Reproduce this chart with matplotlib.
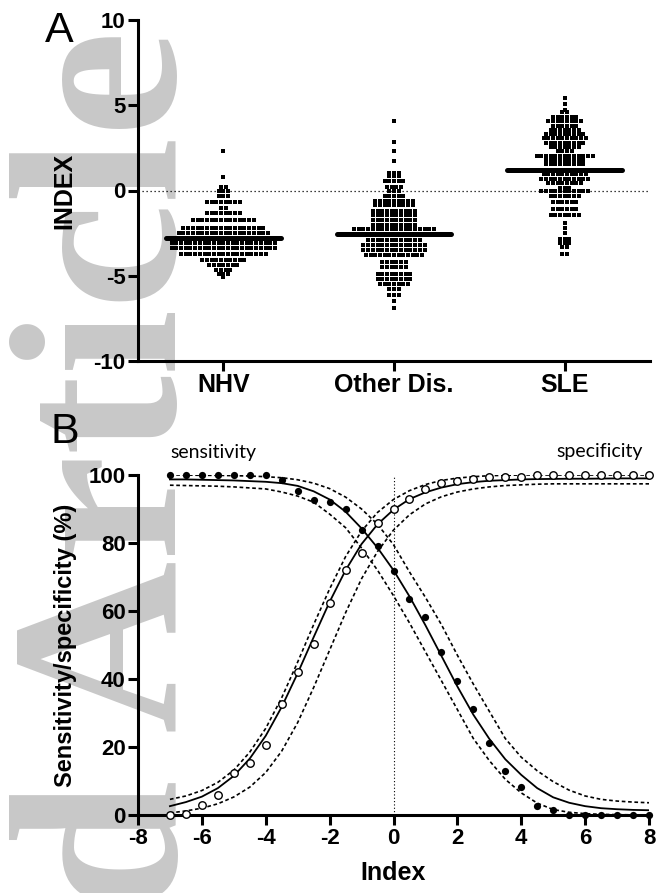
import numpy as np
import matplotlib.pyplot as plt

plt.rcParams['axes.unicode_minus'] = False

# ---- panel A : index per group (rows of the dot plot, value level -> number of subjects)
groups = ['NHV', 'Other Dis.', 'SLE']

nhv_levels = [2.3, 0.8, 0.2, 0.0, -0.35, -0.65, -1.0, -1.3, -1.75, -2.2, -2.5, -2.8,
              -3.1, -3.4, -3.75, -4.05, -4.35, -4.65, -4.9, -5.1]
nhv_counts = [1, 1, 2, 3, 3, 8, 2, 8, 14, 18, 20, 24, 23, 23, 19, 10, 7, 4, 3, 1]

oth_levels = [4.1, 2.85, 2.3, 1.75, 1.0, 0.85, 0.55, 0.2, 0.0, -0.35, -0.6, -0.85,
              -1.2, -1.45, -1.75, -2.0, -2.25, -2.55, -2.9, -3.2, -3.5, -3.8, -4.2,
              -4.5, -4.9, -5.2, -5.5, -5.8, -6.1, -6.5, -6.9]
oth_counts = [1, 1, 1, 1, 3, 3, 5, 4, 3, 5, 9, 9, 10, 10, 10, 10, 18, 18, 12, 14, 14,
              13, 6, 6, 8, 8, 7, 3, 3, 1, 1]

sle_levels = [5.45, 5.1, 4.75, 4.6, 4.3, 4.05, 3.8, 3.55, 3.3, 3.05, 2.8, 2.55, 2.3,
              2.05, 1.8, 1.55, 1.2, 0.95, 0.7, 0.45, 0.15, -0.05, -0.35, -0.65, -1.1,
              -1.45, -1.9, -2.2, -2.5, -2.85, -3.05, -3.3, -3.7]
sle_counts = [1, 1, 1, 2, 6, 8, 6, 7, 9, 10, 9, 7, 4, 13, 9, 9, 12, 10, 11, 8, 3, 11,
              7, 6, 6, 7, 1, 1, 1, 3, 3, 2, 2]

medians = [-2.8, -2.55, 1.2]

# ---- panel B : sensitivity / specificity vs index
index_x = [-7, -6.5, -6, -5.5, -5, -4.5, -4, -3.5, -3, -2.5, -2, -1.5, -1, -0.5, 0,
           0.5, 1, 1.5, 2, 2.5, 3, 3.5, 4, 4.5, 5, 5.5, 6, 6.5, 7, 7.5, 8]

sens_pts = [100, 100, 100, 100, 100, 100, 100, 98.5, 95.4, 92.6, 92.0, 90.0, 83.8,
            79.1, 71.8, 63.5, 58.3, 48.0, 39.4, 31.2, 21.2, 13.0, 8.3, 2.7, 1.5,
            0, 0, 0, 0, 0, 0]
spec_pts = [0, 0.3, 2.8, 5.8, 12.3, 15.2, 20.6, 32.6, 42.2, 50.3, 62.5, 72.0, 77.2,
            86.0, 90.0, 92.9, 95.9, 97.6, 98.2, 98.7, 99.5, 99.5, 99.5, 100, 100,
            100, 100, 100, 100, 100, 100]

sens_fit = [98.7, 98.7, 98.6, 98.5, 98.4, 98.2, 98.0, 97.6, 96.8, 95.2, 92.8, 89.2,
            84.3, 78.6, 72.0, 64.3, 55.8, 46.8, 37.8, 29.5, 22.4, 16.4, 11.8, 7.9,
            5.2, 3.6, 2.6, 2.0, 1.7, 1.5, 1.4]
sens_hi = [100, 100, 99.9, 99.9, 99.8, 99.7, 99.5, 99.2, 98.6, 97.6, 96.0, 93.5,
           90.0, 85.5, 79.5, 71.5, 64.0, 56.0, 47.0, 38.5, 30.5, 22.5, 17.0, 13.0,
           9.8, 7.3, 5.6, 4.6, 4.1, 3.8, 3.6]
sens_lo = [97.0, 96.9, 96.8, 96.7, 96.5, 96.2, 95.9, 95.0, 93.8, 92.0, 88.5, 84.5,
           78.5, 72.0, 64.5, 56.5, 48.0, 39.5, 31.0, 22.5, 16.0, 10.5, 6.5, 3.5,
           1.6, 0.8, 0.4, 0.2, 0.1, 0.05, 0.0]

spec_fit = [2.6, 3.8, 5.4, 7.9, 11.5, 16.6, 23.3, 31.8, 41.7, 52.3, 62.7, 72.0, 79.7,
            85.5, 89.8, 92.9, 94.9, 96.3, 97.3, 97.9, 98.3, 98.5, 98.7, 98.8, 98.85,
            98.9, 98.9, 98.95, 99.0, 99.0, 99.0]
spec_hi = [4.6, 5.6, 7.2, 9.6, 13.2, 18.5, 25.5, 34.5, 45.0, 56.0, 66.5, 76.0, 83.5,
           89.0, 92.8, 95.4, 97.2, 98.4, 99.1, 99.5, 99.8, 99.9, 100, 100, 100, 100,
           100, 100, 100, 100, 100]
spec_lo = [0.6, 1.2, 2.0, 3.3, 5.3, 8.2, 12.5, 18.8, 27.2, 37.5, 48.5, 59.5, 69.5,
           77.5, 83.8, 88.3, 91.5, 93.6, 95.0, 95.9, 96.5, 96.9, 97.1, 97.3, 97.4,
           97.4, 97.4, 97.4, 97.4, 97.4, 97.4]

W, H = 658, 893
fig = plt.figure(figsize=(W / 100, H / 100), dpi=100)

# grey journal watermark behind everything
fig.text(176 / W, 1 - 30 / H, 'Accepted Article', rotation=90, rotation_mode='anchor',
         ha='right', va='baseline', fontsize=172, family='Liberation Serif',
         weight='bold', color='#c8c8c8', zorder=-5)

bold = dict(family='Liberation Sans', weight='bold')
tick_kw = dict(width=2.2, length=7, direction='out', color='black', pad=2)


def style(ax):
    ax.patch.set_visible(False)
    for s in ['top', 'right']:
        ax.spines[s].set_visible(False)
    for s in ['left', 'bottom']:
        ax.spines[s].set_linewidth(2.2)
    ax.tick_params(**tick_kw)


# ---------------- panel A
axA = fig.add_axes([138 / W, 1 - 361 / H, 512 / W, 341 / H])
style(axA)
step = 0.0275
for i, (lv, ct) in enumerate([(nhv_levels, nhv_counts), (oth_levels, oth_counts),
                              (sle_levels, sle_counts)]):
    xs, ys = [], []
    for y, n in zip(lv, ct):
        for k in range(n):
            xs.append(i + (k - (n - 1) / 2) * step)
            ys.append(y)
    axA.plot(xs, ys, 's', ms=2.7, mew=0, color='black', zorder=3)
    axA.plot([i - 0.335, i + 0.335], [medians[i], medians[i]], color='black', lw=3.6,
             solid_capstyle='round', zorder=4)
axA.axhline(0, color='black', lw=0.9, ls=(0, (1, 2.2)), zorder=2)
axA.set_xlim(-0.5, 2.5)
axA.set_ylim(-10, 10)
axA.set_yticks([-10, -5, 0, 5, 10])
axA.set_xticks(range(3))
axA.set_xticklabels(groups, fontsize=18, **bold)
for t in axA.get_yticklabels():
    t.set_fontsize(16)
    t.set_fontfamily('Liberation Sans')
    t.set_fontweight('bold')
axA.set_ylabel('INDEX', fontsize=18, labelpad=12, **bold)

# ---------------- panel B
axB = fig.add_axes([138 / W, 1 - 815 / H, 511 / W, 340 / H])
style(axB)
dash = (0, (2.2, 1.6))
axB.plot(index_x, sens_fit, color='black', lw=1.3, zorder=3)
axB.plot(index_x, sens_hi, color='black', lw=1.2, ls=dash, zorder=3)
axB.plot(index_x, sens_lo, color='black', lw=1.2, ls=dash, zorder=3)
axB.plot(index_x, spec_fit, color='black', lw=1.3, zorder=3)
axB.plot(index_x, spec_hi, color='black', lw=1.2, ls=dash, zorder=3)
axB.plot(index_x, spec_lo, color='black', lw=1.2, ls=dash, zorder=3)
axB.plot(index_x, sens_pts, 'o', ms=5.2, color='black', mew=0, clip_on=False, zorder=5)
axB.plot(index_x, spec_pts, 'o', ms=5.4, mfc='white', mec='black', mew=1.0,
         clip_on=False, zorder=5)
axB.plot([0, 0], [0, 100], color='black', lw=0.8, ls=(0, (1, 2)), zorder=2)
axB.set_xlim(-8, 8)
axB.set_ylim(0, 100)
axB.set_xticks(range(-8, 9, 2))
axB.set_yticks(range(0, 101, 20))
for t in axB.get_xticklabels() + axB.get_yticklabels():
    t.set_fontsize(16)
    t.set_fontfamily('Liberation Sans')
    t.set_fontweight('bold')
axB.set_xlabel('Index', fontsize=18, labelpad=9, **bold)
axB.set_ylabel('Sensitivity/specificity (%)', fontsize=17, labelpad=8, **bold)
axB.text(-7, 105, 'sensitivity', fontsize=14, family='Lato', ha='left',
         va='baseline', clip_on=False)
axB.text(7.8, 105.3, 'specificity', fontsize=14, family='Lato', ha='right',
         va='baseline', clip_on=False)

# panel letters
fig.text(45 / W, 1 - 42 / H, 'A', fontsize=31, family='Liberation Sans', va='baseline')
fig.text(50 / W, 1 - 443 / H, 'B', fontsize=31, family='Liberation Sans', va='baseline')

fig.savefig('out.png', dpi=100)
